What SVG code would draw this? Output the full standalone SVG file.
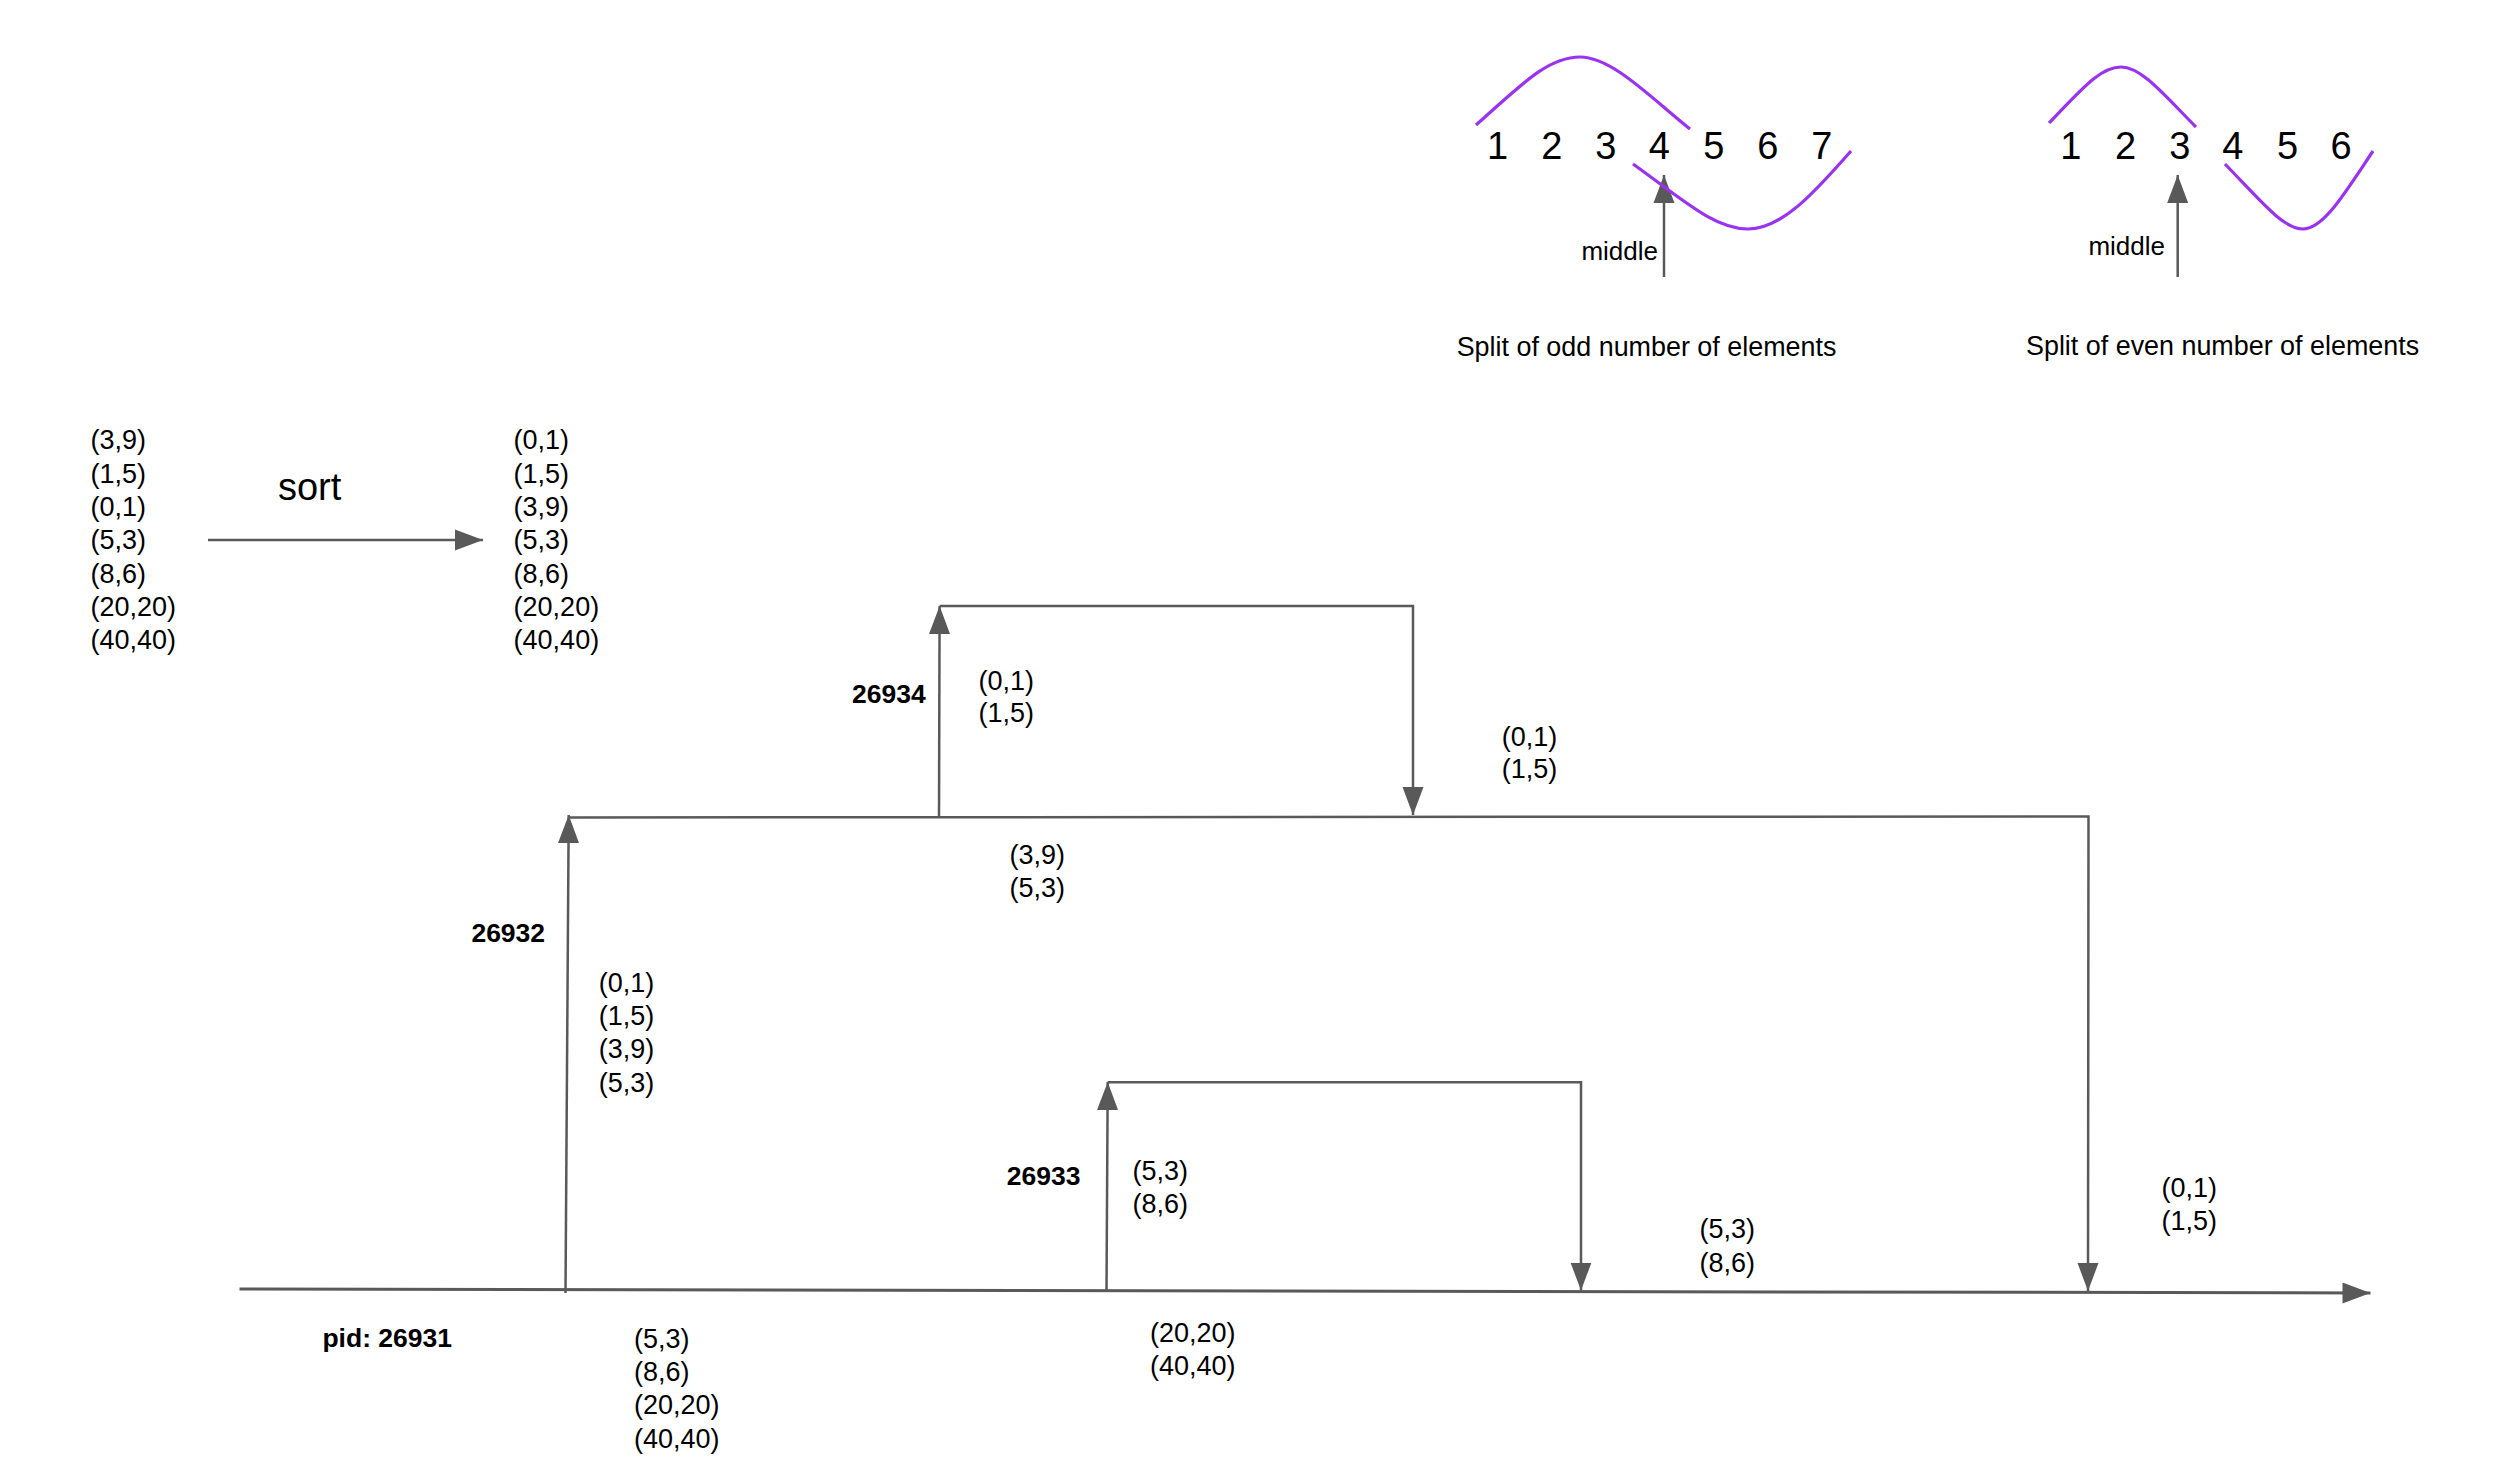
<svg xmlns="http://www.w3.org/2000/svg" width="2504" height="1478" viewBox="0 0 2504 1478">
<style>
text{font-family:"Liberation Sans",Arial,sans-serif;fill:#000}
.t{font-size:27px}
.b{font-size:26.5px;font-weight:bold}
.m{font-size:26px}
.s{font-size:26.9px}
.d{font-size:38px;text-anchor:middle}
.ln{fill:none;stroke:#595959;stroke-width:2.5}
.ar{marker-end:url(#ah)}
.pu{fill:none;stroke:#9933f0;stroke-width:3.2}
</style>
<defs>
<marker id="ah" markerUnits="userSpaceOnUse" markerWidth="28" markerHeight="22" refX="28" refY="11" orient="auto" viewBox="0 0 28 22">
<path d="M0,0.5 L28,11 L0,21.5 z" fill="#595959"/>
</marker>
</defs>
<rect width="2504" height="1478" fill="#fff"/>

<g id="connectors">
<path class="ln ar" d="M208,540 L483,540"/>
<path class="ln ar" d="M1664,277 L1664,175"/>
<path class="ln ar" d="M2177.7,277 L2177.7,175"/>
<path class="ln ar" d="M239.5,1289 L2370.5,1293" style="stroke-width:3"/>
<path class="ln ar" d="M565.5,1293 L568.7,815"/>
<path class="ln ar" d="M568.7,817.5 L2088.5,816.5 L2088,1291"/>
<path class="ln ar" d="M939,817 L939.6,606"/>
<path class="ln ar" d="M939.6,606 L1413,606 L1413,815"/>
<path class="ln ar" d="M1106.5,1292 L1107.7,1082"/>
<path class="ln ar" d="M1107.7,1082.3 L1581,1082.3 L1581,1290.5"/>
</g>

<g id="split-odd">
<path class="pu" d="M1476,125 C1522,84 1548,57 1580,57 S1650,97 1690,129"/>
<path class="pu" d="M1633,164 C1682,199 1714,229 1748,229 S1815,192 1851,151"/>
<text class="d" y="159"><tspan x="1497.5">1</tspan><tspan x="1551.7">2</tspan><tspan x="1605.7">3</tspan><tspan x="1659.3">4</tspan><tspan x="1713.7">5</tspan><tspan x="1767.7">6</tspan><tspan x="1821.7">7</tspan></text>
<text class="m" x="1658" y="260" text-anchor="end">middle</text>
<text class="s" x="1456.7" y="356">Split of odd number of elements</text>
</g>

<g id="split-even">
<path class="pu" d="M2049,123 C2082,89 2100,67 2121,67 S2165,96 2196,127"/>
<path class="pu" d="M2225,164 C2260,200 2283,229 2303,229 S2343,196 2373,151"/>
<text class="d" y="159"><tspan x="2070.7">1</tspan><tspan x="2125.5">2</tspan><tspan x="2179.7">3</tspan><tspan x="2232.7">4</tspan><tspan x="2287.5">5</tspan><tspan x="2341">6</tspan></text>
<text class="m" x="2165" y="255" text-anchor="end">middle</text>
<text class="s" x="2026" y="355">Split of even number of elements</text>
</g>

<g id="unsorted">
<text class="t"><tspan x="90.4" y="449.3">(3,9)</tspan><tspan x="90.4" y="482.6">(1,5)</tspan><tspan x="90.4" y="516">(0,1)</tspan><tspan x="90.4" y="549.3">(5,3)</tspan><tspan x="90.4" y="582.6">(8,6)</tspan><tspan x="90.4" y="616">(20,20)</tspan><tspan x="90.4" y="649.3">(40,40)</tspan></text>
</g>
<g id="sort-label">
<text x="277.9" y="500" style="font-size:38px">sort</text>
</g>
<g id="sorted">
<text class="t"><tspan x="513.6" y="449.3">(0,1)</tspan><tspan x="513.6" y="482.6">(1,5)</tspan><tspan x="513.6" y="516">(3,9)</tspan><tspan x="513.6" y="549.3">(5,3)</tspan><tspan x="513.6" y="582.6">(8,6)</tspan><tspan x="513.6" y="616">(20,20)</tspan><tspan x="513.6" y="649.3">(40,40)</tspan></text>
</g>

<g id="pid-26931">
<text class="b" x="322.4" y="1346.7">pid: 26931</text>
</g>
<g id="pid-26932">
<text class="b" x="471.4" y="941.7">26932</text>
</g>
<g id="pid-26933">
<text class="b" x="1006.8" y="1185">26933</text>
</g>
<g id="pid-26934">
<text class="b" x="852" y="703.3">26934</text>
</g>

<g id="data-26932-in">
<text class="t"><tspan x="598.7" y="991.7">(0,1)</tspan><tspan x="598.7" y="1025">(1,5)</tspan><tspan x="598.7" y="1058.3">(3,9)</tspan><tspan x="598.7" y="1091.7">(5,3)</tspan></text>
</g>
<g id="data-26931-rest">
<text class="t"><tspan x="634" y="1347.7">(5,3)</tspan><tspan x="634" y="1381">(8,6)</tspan><tspan x="634" y="1414.3">(20,20)</tspan><tspan x="634" y="1447.7">(40,40)</tspan></text>
</g>
<g id="data-26934-in">
<text class="t"><tspan x="978.5" y="690">(0,1)</tspan><tspan x="978.5" y="722">(1,5)</tspan></text>
</g>
<g id="data-26932-rest">
<text class="t"><tspan x="1009.5" y="864">(3,9)</tspan><tspan x="1009.5" y="897">(5,3)</tspan></text>
</g>
<g id="data-26934-out">
<text class="t"><tspan x="1501.7" y="746">(0,1)</tspan><tspan x="1501.7" y="778">(1,5)</tspan></text>
</g>
<g id="data-26933-in">
<text class="t"><tspan x="1132.4" y="1180">(5,3)</tspan><tspan x="1132.4" y="1213.3">(8,6)</tspan></text>
</g>
<g id="data-26931-rest2">
<text class="t"><tspan x="1150" y="1342">(20,20)</tspan><tspan x="1150" y="1375.3">(40,40)</tspan></text>
</g>
<g id="data-26933-out">
<text class="t"><tspan x="1699.6" y="1238.3">(5,3)</tspan><tspan x="1699.6" y="1271.7">(8,6)</tspan></text>
</g>
<g id="data-26932-out">
<text class="t"><tspan x="2161.4" y="1196.7">(0,1)</tspan><tspan x="2161.4" y="1230">(1,5)</tspan></text>
</g>
</svg>
